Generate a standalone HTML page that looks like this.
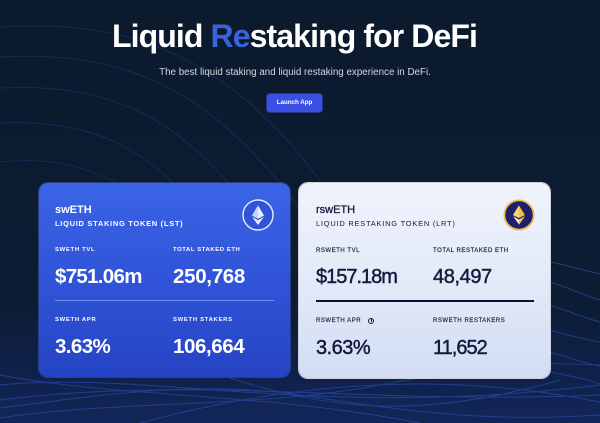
<!DOCTYPE html>
<html><head><meta charset="utf-8">
<style>
*{margin:0;padding:0;box-sizing:border-box}
html,body{width:600px;height:423px;overflow:hidden;background:#0b1a2c;font-family:"Liberation Sans",sans-serif}
.a{position:absolute;white-space:nowrap;line-height:1}
.card{position:absolute;border-radius:9px}
#c1{left:39px;top:183px;width:251px;height:194px;background:linear-gradient(180deg,#3b64e7 0%,#2f52d6 55%,#2544c4 100%);box-shadow:0 0 0 1px rgba(90,130,255,0.35)}
#c2{left:299px;top:183px;width:251px;height:195px;background:linear-gradient(180deg,#f0f3fb 0%,#e3eaf8 50%,#d2ddf5 100%);box-shadow:0 0 0 1px rgba(255,255,255,0.8)}
.w{color:#fff}
.d{color:#141a3c}
.lab{font-size:5.9px;font-weight:bold;letter-spacing:0.7px}
.labd{font-size:6px;letter-spacing:0.55px;-webkit-text-stroke:0.15px #141a3c}
.big{font-size:20.5px;font-weight:bold}
.bigd{font-size:20px;-webkit-text-stroke:0.45px #141a3c}
</style></head><body>
<svg class="a" style="left:0;top:0" width="600" height="423" viewBox="0 0 600 423">
<defs>
<linearGradient id="bg" x1="0" y1="0" x2="0" y2="1">
<stop offset="0" stop-color="#0b1a2c"/>
<stop offset="0.7" stop-color="#0c1c33"/>
<stop offset="0.88" stop-color="#0f2149"/>
<stop offset="1" stop-color="#12265a"/>
</linearGradient>
</defs>
<rect width="600" height="423" fill="url(#bg)"/>
<g fill="none" stroke="#1e3b7c" stroke-width="1" opacity="0.5">
<path d="M0,27 C110,20 230,40 340,210"/>
<path d="M0,57 C100,52 200,70 300,210"/>
<path d="M0,88 C85,84 170,100 250,210"/>
<path d="M0,123 C65,120 130,132 190,200"/>
<path d="M0,162 C40,158 80,162 120,185"/>
</g>
<g fill="none" stroke="#2c4cae" stroke-width="1" opacity="0.65">
<path d="M0,385 C150,370 320,420 600,385"/>
<path d="M0,400 C200,375 360,405 600,395"/>
<path d="M0,375 C120,398 260,392 420,423"/>
<path d="M140,423 C300,380 450,372 600,402"/>
<path d="M0,418 C120,400 260,408 380,385 S520,362 600,365"/>
<path d="M0,408 C100,395 200,380 300,395 S480,423 600,415"/>
<path d="M230,378 C330,410 420,420 560,380"/>
<path d="M550,262 C570,266 590,272 600,274"/>
<path d="M550,282 C570,288 585,296 600,300"/>
<path d="M550,305 C570,312 585,318 600,322"/>
<path d="M550,330 C570,336 588,340 600,342"/>
<path d="M550,352 C570,358 588,364 600,366"/>
<path d="M550,372 C570,376 590,380 600,384"/>
</g>
</svg>

<div class="a" style="left:0;width:589px;top:20px;text-align:center;font-size:32px;font-weight:bold;letter-spacing:-0.9px;color:#fff">Liquid <span style="color:#3a62d9">Re</span>staking for DeFi</div>
<div class="a" style="left:0;width:590px;top:68px;text-align:center;font-size:9.8px;color:#d3d7df">The best liquid staking and liquid restaking experience in DeFi.</div>
<div class="a" style="left:267px;top:94px;width:55px;height:18px;background:#3a4fe3;border-radius:3px;box-shadow:0 0 0 1px rgba(80,100,255,0.4)"></div>
<div class="a" style="left:267px;top:100px;width:55px;text-align:center;font-size:6.2px;font-weight:bold;color:#fff">Launch App</div>

<div class="card" id="c1"></div>
<div class="card" id="c2"></div>

<!-- left card -->
<div class="a w" style="left:55px;top:205px;font-size:11px;font-weight:bold">swETH</div>
<div class="a w" style="left:55px;top:219.5px;font-size:7.5px;font-weight:bold;letter-spacing:0.7px">LIQUID STAKING TOKEN (LST)</div>
<svg class="a" style="left:242px;top:199px" width="32" height="32" viewBox="0 0 32 32">
<circle cx="16" cy="16" r="15" fill="#2f54d8" stroke="#e8eeff" stroke-width="1.4"/>
<polygon points="16,6.5 22,16.5 16,19.8 10,16.5" fill="#e9efff"/>
<polygon points="16,6.5 16,19.8 10,16.5" fill="#c5d3ff"/>
<polygon points="16,21.2 22,17.8 16,26 10,17.8" fill="#e9efff"/>
</svg>
<div class="a w lab" style="left:55px;top:247.5px">SWETH TVL</div>
<div class="a w lab" style="left:173px;top:247.5px;letter-spacing:0.6px">TOTAL STAKED ETH</div>
<div class="a w big" style="left:55px;top:266.5px;letter-spacing:-0.7px">$751.06m</div>
<div class="a w big" style="left:173px;top:266.5px;letter-spacing:-0.3px">250,768</div>
<div class="a" style="left:55px;top:300px;width:219px;height:1px;background:rgba(200,215,255,0.45)"></div>
<div class="a w lab" style="left:55px;top:318px">SWETH APR</div>
<div class="a w lab" style="left:173px;top:318px">SWETH STAKERS</div>
<div class="a w big" style="left:55px;top:337.3px;letter-spacing:-0.6px">3.63%</div>
<div class="a w big" style="left:173px;top:337.3px;letter-spacing:-0.4px">106,664</div>

<!-- right card -->
<div class="a d" style="left:316px;top:205px;font-size:11px;-webkit-text-stroke:0.3px #141a3c">rswETH</div>
<div class="a d" style="left:316px;top:219.5px;font-size:7.5px;letter-spacing:0.75px">LIQUID RESTAKING TOKEN (LRT)</div>
<svg class="a" style="left:503px;top:199px" width="32" height="32" viewBox="0 0 32 32">
<circle cx="16" cy="16" r="14.6" fill="#1d1f6a" stroke="#e6c04e" stroke-width="1.8"/>
<polygon points="16,6.5 22,16 16,19 10,16" fill="#f1c33c"/>
<polygon points="16,6.5 16,19 10,16" fill="#f7d870"/>
<polygon points="16,20.5 22,17.3 16,25.5 10,17.3" fill="#f4e9c8"/>
<polygon points="16,20.5 16,25.5 22,17.3" fill="#f1c33c"/>
</svg>
<div class="a d labd" style="left:316px;top:247.5px">RSWETH TVL</div>
<div class="a d labd" style="left:433px;top:247.5px">TOTAL RESTAKED ETH</div>
<div class="a d bigd" style="left:316px;top:267px;letter-spacing:-1px">$157.18m</div>
<div class="a d bigd" style="left:433px;top:267px;letter-spacing:-0.4px">48,497</div>
<div class="a" style="left:316px;top:300px;width:218px;height:1.6px;background:#0b1030"></div>
<div class="a d labd" style="left:316px;top:318px">RSWETH APR</div>
<div class="a" style="left:368px;top:317.5px;width:6px;height:6px;border:1px solid #141a3c;border-radius:50%"></div>
<div class="a" style="left:370.6px;top:319.3px;width:0.9px;height:2.4px;background:#141a3c"></div>
<div class="a d labd" style="left:433px;top:318px">RSWETH RESTAKERS</div>
<div class="a d bigd" style="left:316px;top:337.5px;letter-spacing:-0.5px">3.63%</div>
<div class="a d bigd" style="left:433px;top:337.5px;letter-spacing:-1px">11,652</div>
</body></html>
